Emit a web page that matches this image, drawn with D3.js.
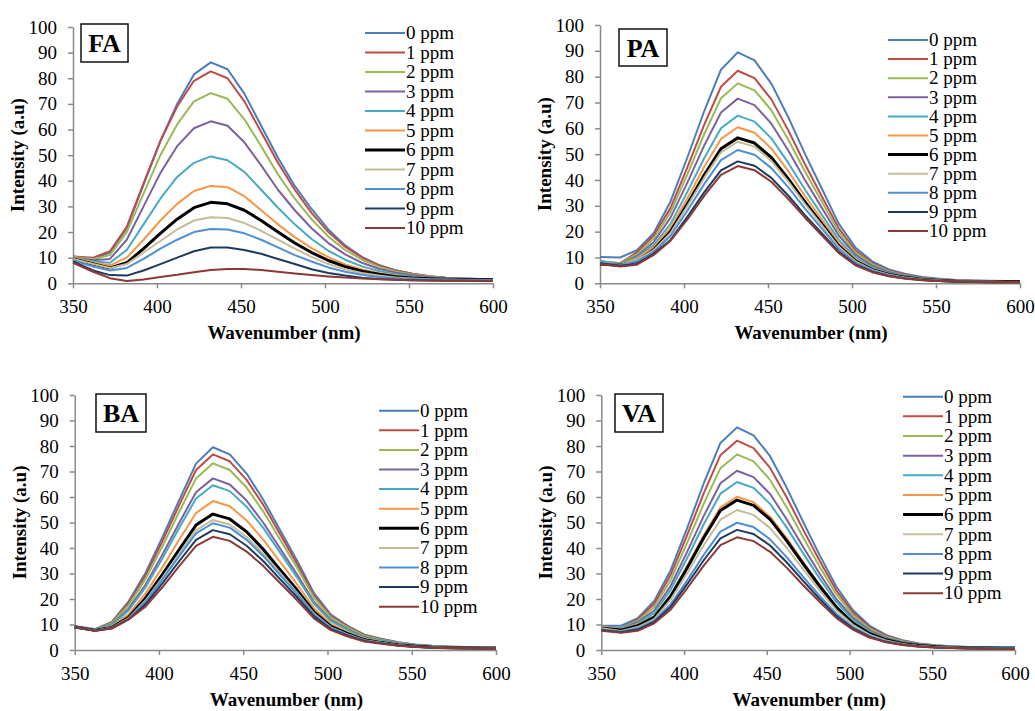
<!DOCTYPE html>
<html>
<head>
<meta charset="UTF-8">
<title>Fluorescence spectra - FA / PA / BA / VA</title>
<script src="https://cdnjs.cloudflare.com/ajax/libs/d3/7.8.5/d3.min.js"></script>
<style>
    body { margin: 0; background: #fff; }
    svg text { font-family: "Liberation Serif", "DejaVu Serif", serif !important; fill: #000; }
</style>
</head>
<body>
<div id="chart"></div>
<script type="text/javascript">

    // wavelengths (nm) of the measured points
    const wavelength = [350, 362, 372, 382, 392, 402, 412, 422, 432, 442, 452, 462, 472,
        482, 492, 502, 512, 522, 532, 542, 552, 562, 572, 582, 592, 600];

    const ppmLabels = ["0 ppm", "1 ppm", "2 ppm", "3 ppm", "4 ppm", "5 ppm", "6 ppm",
        "7 ppm", "8 ppm", "9 ppm", "10 ppm"];
    const seriesColors = ["#4a7ebb", "#be4b48", "#98b954", "#7d60a0", "#46aac5", "#f79646",
        "#000000", "#c4bd97", "#4f8fd6", "#1f3a5f", "#8c3836"];

    const xTicks = [350, 400, 450, 500, 550, 600];
    const yTicks = [0, 10, 20, 30, 40, 50, 60, 70, 80, 90, 100];

    // intensity (a.u) per concentration
    const FA = [
        [10.5, 9.5, 12, 21.5, 38.5, 55.5, 70, 81.5, 86.2, 83.5, 74, 61.5, 49, 38, 29, 21, 14.8, 10.3, 7.2, 5.1, 3.7, 2.8, 2.2, 1.9, 1.7, 1.6],
        [10.5, 10, 12.5, 22, 39, 55.5, 69, 79, 82.7, 80, 71, 59, 47, 36.5, 27.5, 20, 14.3, 10, 7, 5, 3.7, 2.8, 2.2, 1.9, 1.7, 1.6],
        [10.3, 9.5, 11, 20, 35, 50, 62, 71, 74.2, 72, 64, 53.5, 42.5, 33, 25, 18.2, 13, 9.2, 6.5, 4.6, 3.4, 2.6, 2.1, 1.8, 1.6, 1.5],
        [10, 9, 9.5, 17, 30, 43, 53.5, 60.5, 63.2, 61.5, 55, 46, 36.5, 28.5, 21.5, 15.7, 11.3, 8, 5.7, 4.1, 3.1, 2.4, 1.9, 1.7, 1.5, 1.5],
        [10, 8.5, 8, 13, 23, 33, 41.5, 47, 49.5, 48, 43.5, 36.5, 29.5, 23, 17.3, 12.7, 9.2, 6.6, 4.8, 3.5, 2.7, 2.1, 1.8, 1.6, 1.5, 1.4],
        [10, 8, 7, 10, 17, 24.5, 31, 36, 38, 37.5, 34, 28.5, 23, 18, 13.7, 10.2, 7.4, 5.4, 4, 3, 2.3, 1.9, 1.7, 1.5, 1.4, 1.4],
        [9.5, 7.5, 6, 8, 13.5, 19.5, 25, 29.5, 31.6, 31, 28.5, 24.5, 20, 15.7, 12, 8.9, 6.5, 4.7, 3.5, 2.6, 2.1, 1.8, 1.6, 1.5, 1.4, 1.4],
        [9.5, 7.5, 6, 7.5, 12, 16.5, 21, 24.5, 25.8, 25.5, 23.5, 20.5, 17, 13.5, 10.3, 7.5, 5.5, 4, 3, 2.3, 1.9, 1.6, 1.5, 1.4, 1.3, 1.3],
        [9, 6.5, 5, 6, 9.5, 13.5, 17, 20, 21.2, 21, 19.5, 17, 14, 11, 8.5, 6.2, 4.5, 3.3, 2.5, 2, 1.7, 1.5, 1.4, 1.3, 1.3, 1.3],
        [8.5, 5, 3.2, 3, 5, 7.5, 10, 12.5, 14, 14, 13, 11.5, 9.5, 7.5, 5.5, 4, 3, 2.2, 1.7, 1.4, 1.2, 1.1, 1, 1, 0.9, 0.9],
        [8, 4.5, 2, 0.9, 1.5, 2.5, 3.3, 4.3, 5.2, 5.6, 5.6, 5.2, 4.5, 3.8, 3.2, 2.7, 2.3, 1.9, 1.6, 1.4, 1.2, 1.1, 1, 1, 1, 1]
    ];

    const PA = [
        [10.2, 10, 12.8, 19.5, 31.7, 48.7, 66.6, 82.7, 89.4, 86.3, 77.3, 64.4, 50.1, 36.7, 23.2, 13.9, 8.5, 5.4, 3.6, 2.4, 1.8, 1.3, 1.1, 1, 0.9, 0.9],
        [8.5, 7.8, 12, 18.5, 29.2, 44.9, 61.3, 76.1, 82.3, 79.4, 71.2, 59.3, 46.1, 33.7, 21.4, 12.8, 7.8, 4.9, 3.3, 2.2, 1.6, 1.2, 1, 0.9, 0.8, 0.8],
        [8.5, 7.8, 11.2, 17.3, 27.5, 42.2, 57.7, 71.6, 77.4, 74.7, 67, 55.7, 43.3, 31.7, 20.1, 12, 7.4, 4.6, 3.1, 2.1, 1.5, 1.2, 0.9, 0.9, 0.8, 0.8],
        [8, 7.5, 10.5, 16, 25.4, 39, 53.3, 66.1, 71.5, 69, 61.8, 51.5, 40, 29.3, 18.6, 11.1, 6.8, 4.3, 2.9, 1.9, 1.4, 1.1, 0.9, 0.8, 0.7, 0.7],
        [8.5, 7.5, 10, 14.8, 23, 35.4, 48.4, 60, 64.9, 62.6, 56.1, 46.7, 36.3, 26.6, 16.9, 10.1, 6.2, 3.9, 2.6, 1.8, 1.3, 1, 0.8, 0.7, 0.6, 0.6],
        [8, 7.3, 9.5, 14, 21.4, 32.9, 45, 55.9, 60.4, 58.3, 52.2, 43.5, 33.8, 24.8, 15.7, 9.4, 5.7, 3.6, 2.4, 1.6, 1.2, 0.9, 0.7, 0.7, 0.6, 0.6],
        [7.5, 7, 8.5, 13, 20, 30.7, 41.9, 52.1, 56.3, 54.3, 48.7, 40.5, 31.5, 23.1, 14.6, 8.7, 5.3, 3.4, 2.3, 1.5, 1.1, 0.8, 0.7, 0.6, 0.6, 0.6],
        [8, 7, 9, 12.8, 19.5, 29.9, 40.8, 50.7, 54.8, 52.9, 47.4, 39.5, 30.7, 22.5, 14.2, 8.5, 5.2, 3.3, 2.2, 1.5, 1.1, 0.8, 0.7, 0.6, 0.5, 0.5],
        [8, 7, 8.5, 12.2, 18.3, 28.1, 38.4, 47.7, 51.6, 49.8, 44.6, 37.2, 28.9, 21.2, 13.4, 8, 4.9, 3.1, 2.1, 1.4, 1, 0.8, 0.6, 0.6, 0.5, 0.5],
        [7.8, 6.8, 7.5, 11.5, 16.8, 25.7, 35.2, 43.7, 47.2, 45.5, 40.8, 34, 26.4, 19.4, 12.3, 7.3, 4.5, 2.8, 1.9, 1.3, 0.9, 0.7, 0.6, 0.5, 0.5, 0.5],
        [7.5, 6.5, 7.2, 11, 16.5, 24.7, 33.8, 42, 45.4, 43.8, 39.3, 32.7, 25.4, 18.6, 11.8, 7, 4.3, 2.7, 1.8, 1.2, 0.9, 0.7, 0.5, 0.5, 0.5, 0.5]
    ];

    const BA = [
        [9.3, 8.2, 11, 19.1, 30.2, 44.1, 58.8, 73.1, 79.5, 76.7, 69.2, 58.8, 46.9, 35, 22.3, 13.9, 9.5, 6, 4.4, 3, 2.2, 1.7, 1.4, 1.2, 1.1, 1],
        [9.2, 8, 10.8, 18.4, 29.1, 42.6, 56.8, 70.6, 76.7, 74, 66.7, 56.8, 45.3, 33.7, 21.5, 13.4, 9.2, 5.8, 4.2, 2.9, 2.1, 1.6, 1.3, 1.2, 1.1, 1],
        [9.2, 8, 10.5, 17.6, 27.8, 40.6, 54.2, 67.3, 73.2, 70.6, 63.7, 54.2, 43.2, 32.2, 20.5, 12.8, 8.8, 5.5, 4, 2.8, 2, 1.5, 1.2, 1.1, 1, 1],
        [9.2, 7.9, 10, 16.2, 25.6, 37.4, 49.8, 61.9, 67.3, 64.9, 58.6, 49.8, 39.7, 29.6, 18.8, 11.8, 8.1, 5, 3.7, 2.6, 1.9, 1.4, 1.1, 1, 0.9, 0.9],
        [9.2, 7.9, 9.8, 15.5, 24.5, 35.9, 47.8, 59.4, 64.6, 62.3, 56.2, 47.8, 38.1, 28.4, 18.1, 11.3, 7.8, 4.8, 3.6, 2.5, 1.8, 1.4, 1.1, 1, 0.9, 0.8],
        [9.1, 7.8, 9.3, 14, 22.2, 32.4, 43.2, 53.7, 58.4, 56.4, 50.8, 43.2, 34.5, 25.7, 16.4, 10.2, 7, 4.4, 3.2, 2.2, 1.6, 1.2, 1, 0.9, 0.8, 0.8],
        [9, 7.7, 8.8, 12.8, 20.3, 29.6, 39.4, 49, 53.3, 51.4, 46.4, 39.4, 31.4, 23.5, 14.9, 9.3, 6.4, 4, 2.9, 2, 1.5, 1.1, 0.9, 0.8, 0.7, 0.7],
        [9, 7.7, 8.7, 12.5, 19.4, 28.3, 37.7, 46.9, 51, 49.2, 44.4, 37.7, 30.1, 22.4, 14.3, 8.9, 6.1, 3.8, 2.8, 1.9, 1.4, 1.1, 0.9, 0.8, 0.7, 0.7],
        [9, 7.6, 8.6, 12.3, 18.9, 27.6, 36.8, 45.7, 49.7, 48, 43.2, 36.8, 29.3, 21.9, 13.9, 8.7, 6, 3.7, 2.7, 1.9, 1.4, 1, 0.8, 0.7, 0.7, 0.6],
        [9, 7.6, 8.5, 12, 17.9, 26.1, 34.8, 43.2, 47, 45.4, 40.9, 34.8, 27.7, 20.7, 13.2, 8.2, 5.6, 3.5, 2.6, 1.8, 1.3, 1, 0.8, 0.7, 0.7, 0.6],
        [8.9, 7.5, 8.4, 12, 17, 24.6, 32.9, 40.8, 44.4, 42.8, 38.6, 32.9, 26.2, 19.5, 12.4, 7.8, 5.3, 3.3, 2.4, 1.7, 1.2, 0.9, 0.8, 0.7, 0.6, 0.6]
    ];

    const VA = [
        [9.5, 9.5, 12.5, 19.2, 31.4, 48, 65.5, 81.2, 87.3, 84.2, 76, 63.7, 50.2, 37.1, 24.9, 15.7, 9.6, 5.9, 3.8, 2.6, 1.9, 1.5, 1.2, 1.1, 1, 1],
        [9.3, 8.5, 12, 18.1, 29.6, 45.2, 61.6, 76.4, 82.1, 79.2, 71.4, 59.9, 47.2, 34.9, 23.4, 14.8, 9, 5.6, 3.6, 2.5, 1.8, 1.4, 1.1, 1, 1, 1],
        [9.3, 8.5, 11.5, 16.9, 27.6, 42.2, 57.5, 71.3, 76.7, 74, 66.7, 56, 44.1, 32.6, 21.9, 13.8, 8.4, 5.2, 3.4, 2.3, 1.7, 1.3, 1.1, 1, 0.9, 0.9],
        [9.2, 8.3, 11, 15.5, 25.3, 38.7, 52.7, 65.4, 70.3, 67.8, 61.2, 51.3, 40.4, 29.9, 20, 12.7, 7.7, 4.8, 3.1, 2.1, 1.5, 1.2, 1, 0.9, 0.8, 0.8],
        [9.2, 8.3, 10.5, 14.5, 23.7, 36.2, 49.4, 61.3, 65.9, 63.6, 57.3, 48.1, 37.9, 28, 18.8, 11.9, 7.2, 4.5, 2.9, 2, 1.5, 1.3, 1.2, 1.2, 1.2, 1.2],
        [9, 8, 10, 13.2, 21.6, 33.1, 45.1, 55.9, 60.1, 58, 52.3, 43.9, 34.6, 25.5, 17.1, 10.8, 6.6, 4.1, 2.6, 1.8, 1.3, 1, 0.8, 0.7, 0.7, 0.7],
        [8.5, 7.8, 9.5, 12.9, 21.2, 32.3, 44.1, 54.7, 58.8, 56.7, 51.2, 42.9, 33.8, 25, 16.8, 10.6, 6.5, 4, 2.6, 1.8, 1.3, 1, 0.8, 0.8, 0.7, 0.7],
        [8.5, 7.5, 9, 12.1, 19.8, 30.2, 41.2, 51.1, 54.9, 53, 47.8, 40.1, 31.6, 23.3, 15.6, 9.9, 6, 3.7, 2.4, 1.6, 1.2, 1, 0.8, 0.7, 0.7, 0.7],
        [8, 7.3, 8.5, 11.5, 18, 27.4, 37.4, 46.4, 49.9, 48.2, 43.4, 36.4, 28.7, 21.2, 14.2, 9, 5.5, 3.4, 2.2, 1.5, 1.1, 0.9, 0.7, 0.7, 0.6, 0.6],
        [7.8, 7, 8, 11, 17, 25.9, 35.3, 43.8, 47.1, 45.5, 41, 34.4, 27.1, 20, 13.4, 8.5, 5.2, 3.2, 2.1, 1.4, 1, 0.8, 0.7, 0.6, 0.6, 0.6],
        [7.5, 6.8, 7.5, 10.5, 15.9, 24.3, 33.2, 41.1, 44.2, 42.7, 38.5, 32.3, 25.4, 18.8, 12.6, 8, 4.9, 3, 2, 1.3, 1, 0.8, 0.7, 0.6, 0.5, 0.5]
    ];

    // layout of the four panels (pixels)
    const panels = [
        { name: "FA", data: FA, x0: 73, x1: 493, top: 27, bottom: 283.3,
          box: { x: 81, y: 24, w: 47, h: 38 }, legend: { x: 365, y: 33, step: 19.5 } },
        { name: "PA", data: PA, x0: 600, x1: 1020, top: 25, bottom: 283.3,
          box: { x: 619, y: 29, w: 48, h: 37 }, legend: { x: 888, y: 40, step: 19.1 } },
        { name: "BA", data: BA, x0: 74.7, x1: 496, top: 395, bottom: 650,
          box: { x: 96, y: 394, w: 50, h: 38 }, legend: { x: 379, y: 410.7, step: 19.6 } },
        { name: "VA", data: VA, x0: 601.3, x1: 1015, top: 395, bottom: 650,
          box: { x: 615, y: 394, w: 48, h: 38 }, legend: { x: 903, y: 396.7, step: 19.65 } }
    ];

    const serif = "'Liberation Serif', 'DejaVu Serif', serif";
    const axisColor = "#8a8a8a";
    const fontSize = 19;

    const svg = d3.select("#chart")
        .append("svg")
        .attr("width", 1035)
        .attr("height", 711)
        .attr("font-family", serif);

    panels.forEach(function (p) {
        let x = d3.scaleLinear().domain([350, 600]).range([p.x0, p.x1]);
        let y = d3.scaleLinear().domain([0, 100]).range([p.bottom, p.top]);
        let g = svg.append("g");

        // Y axis
        let yAxis = g.append("g")
            .attr("transform", "translate(" + p.x0 + ",0)")
            .call(d3.axisLeft(y).tickValues(yTicks).tickSize(5).tickSizeOuter(0).tickPadding(11));
        // X axis
        let xAxis = g.append("g")
            .attr("transform", "translate(0," + p.bottom + ")")
            .call(d3.axisBottom(x).tickValues(xTicks).tickSize(5).tickSizeOuter(0).tickPadding(11.5));

        [yAxis, xAxis].forEach(function (a) {
            a.attr("font-family", serif).attr("font-size", fontSize);
            a.select(".domain").attr("stroke", axisColor).attr("stroke-width", 1.5);
            a.selectAll(".tick line").attr("stroke", axisColor).attr("stroke-width", 1.5);
            a.selectAll(".tick text")
                .style("font-family", serif)
                .style("font-size", fontSize + "px")
                .attr("fill", "#000");
        });

        // axis titles
        g.append("text")
            .attr("x", (p.x0 + p.x1) / 2 + 1)
            .attr("y", p.bottom + 56)
            .attr("text-anchor", "middle")
            .style("font-family", serif)
            .style("font-size", fontSize + "px")
            .style("font-weight", "bold")
            .text("Wavenumber (nm)");

        g.append("text")
            .attr("transform", "translate(" + (p.x0 - 49) + "," + ((p.top + p.bottom) / 2) + ") rotate(-90)")
            .attr("text-anchor", "middle")
            .style("font-family", serif)
            .style("font-size", fontSize + "px")
            .style("font-weight", "bold")
            .text("Intensity (a.u)");

        // spectra
        let line = d3.line()
            .x(function (d, i) { return x(wavelength[i]); })
            .y(function (d) { return y(d); });

        g.selectAll("path.spectrum")
            .data(p.data)
            .enter()
            .append("path")
            .attr("class", "spectrum")
            .attr("d", line)
            .attr("fill", "none")
            .attr("stroke", function (d, i) { return seriesColors[i]; })
            .attr("stroke-width", function (d, i) { return i === 6 ? 3 : 2; })
            .attr("stroke-linejoin", "round");

        // label box
        g.append("rect")
            .attr("x", p.box.x)
            .attr("y", p.box.y)
            .attr("width", p.box.w)
            .attr("height", p.box.h)
            .attr("fill", "#fff")
            .attr("stroke", "#111")
            .attr("stroke-width", 1.5);
        g.append("text")
            .attr("x", p.box.x + p.box.w / 2)
            .attr("y", p.box.y + p.box.h / 2)
            .attr("dy", "0.35em")
            .attr("text-anchor", "middle")
            .style("font-family", serif)
            .style("font-size", "26px")
            .style("font-weight", "bold")
            .text(p.name);

        // legend
        let leg = g.selectAll("g.legend")
            .data(ppmLabels)
            .enter()
            .append("g")
            .attr("class", "legend")
            .attr("transform", function (d, i) { return "translate(" + p.legend.x + "," + (p.legend.y + i * p.legend.step) + ")"; });
        leg.append("line")
            .attr("x1", 0).attr("x2", 40)
            .attr("stroke", function (d, i) { return seriesColors[i]; })
            .attr("stroke-width", function (d, i) { return i === 6 ? 3 : 2; });
        leg.append("text")
            .attr("x", 41)
            .attr("dy", "0.33em")
            .style("font-family", serif)
            .style("font-size", fontSize + "px")
            .text(function (d) { return d; });
    });

</script>
</body>
</html>
